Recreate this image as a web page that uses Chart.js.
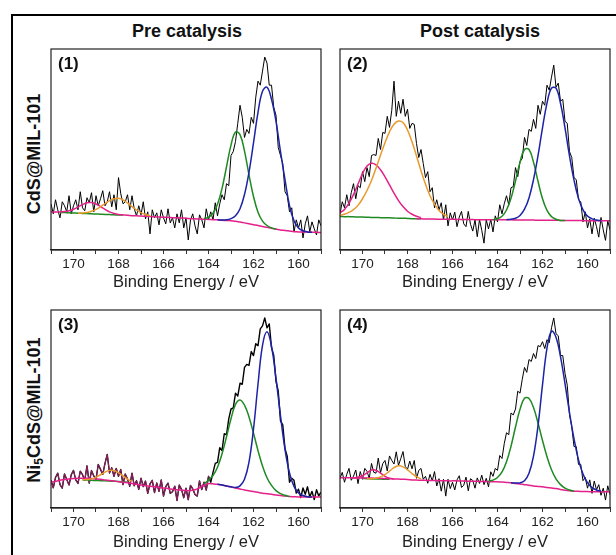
<!DOCTYPE html>
<html>
<head>
<meta charset="utf-8">
<script src="https://cdn.jsdelivr.net/npm/chart.js@4.4.1/dist/chart.umd.min.js"></script>
<style>
  html, body { margin: 0; padding: 0; background: #fff; }
  body { width: 616px; height: 555px; overflow: hidden; position: relative; font-family: 'Liberation Sans', Arial, sans-serif; }
  #frame { position: absolute; left: 11px; top: 14px; width: 640px; height: 600px; border-left: 2px solid #000; border-top: 2px solid #000; }
  .coltitle { position: absolute; width: 220px; text-align: center; font-weight: bold; font-size: 18px; line-height: 20px; color: #111; }
  .rowlabel { position: absolute; width: 240px; height: 22px; line-height: 22px; text-align: center; font-weight: bold; font-size: 18px; color: #111; transform: rotate(-90deg); white-space: nowrap; }
  .rowlabel sub { font-size: 12px; vertical-align: -3px; line-height: 0; }
  canvas { position: absolute; }
</style>
</head>
<body>
<div id="frame"></div>
<div class="coltitle" style="left:77px; top:21px;">Pre catalysis</div>
<div class="coltitle" style="left:370px; top:21px;">Post catalysis</div>
<div class="rowlabel" style="left:-86px; top:143px;">CdS@MIL-101</div>
<div class="rowlabel" style="left:-86px; top:399px;">Ni<sub>5</sub>CdS@MIL-101</div>
<canvas id="c1" width="290" height="253" style="left:41px; top:39px;"></canvas>
<canvas id="c2" width="290" height="253" style="left:330px; top:39px;"></canvas>
<canvas id="c3" width="290" height="252" style="left:41px; top:300px;"></canvas>
<canvas id="c4" width="290" height="252" style="left:330px; top:300px;"></canvas>
<script>
// ---- shared energy grids (eV) ----
const energy = [171,170.9,170.8,170.7,170.6,170.5,170.4,170.3,170.2,170.1,
 170,169.9,169.8,169.7,169.6,169.5,169.4,169.3,169.2,169.1,
 169,168.9,168.8,168.7,168.6,168.5,168.4,168.3,168.2,168.1,
 168,167.9,167.8,167.7,167.6,167.5,167.4,167.3,167.2,167.1,
 167,166.9,166.8,166.7,166.6,166.5,166.4,166.3,166.2,166.1,
 166,165.9,165.8,165.7,165.6,165.5,165.4,165.3,165.2,165.1,
 165,164.9,164.8,164.7,164.6,164.5,164.4,164.3,164.2,164.1,
 164,163.9,163.8,163.7,163.6,163.5,163.4,163.3,163.2,163.1,
 163,162.9,162.8,162.7,162.6,162.5,162.4,162.3,162.2,162.1,
 162,161.9,161.8,161.7,161.6,161.5,161.4,161.3,161.2,161.1,
 161,160.9,160.8,160.7,160.6,160.5,160.4,160.3,160.2,160.1,
 160,159.9,159.8,159.7,159.6,159.5,159.4,159.3,159.2,159.1,
 159];
const fitEnergy = [171,170.8,170.6,170.4,170.2,170,169.8,169.6,169.4,169.2,
 169,168.8,168.6,168.4,168.2,168,167.8,167.6,167.4,167.2,
 167,166.8,166.6,166.4,166.2,166,165.8,165.6,165.4,165.2,
 165,164.8,164.6,164.4,164.2,164,163.8,163.6,163.4,163.2,
 163,162.8,162.6,162.4,162.2,162,161.8,161.6,161.4,161.2,
 161,160.8,160.6,160.4,160.2,160,159.8,159.6,159.4,159.2,
 159];
const xTicks = [170,168,166,164,162,160];
const panelLabels = ['(1)','(2)','(3)','(4)'];

// ---- panel 1 : CdS@MIL-101, pre catalysis ----
const p1Counts = [23,18,25,20,16,24,22,19,27,18,
 22,25,20,29,21,19.5,26,23.5,28.5,19,
 27,22,25.5,29.5,22,24,29,21.5,27.5,20,
 36,28,23,24,27.5,20,27,20.5,17,22,
 17.5,24,15.5,19,8,20,16,18.5,12.5,20,
 16,13,20.5,13.5,16,11,18,13.5,20,11,
 16,5,15,18,12,8,17.5,15,11,20.5,
 15,19,15,23.5,17,23,27.5,25,33,32,
 47,49,54,63,72,66,56,60,58,66,
 63,76,84,82,89,96,93,82,82,71,
 67,51,47,43,29,27,19,21,9,15,
 11,15,6,13,17,9,14,10.5,7.5,15,
 12];
const p1BgFrom = 167.8;
const p1Bg = [17.4,17.3,17.1,17.0,16.9,16.8,16.7,16.5,16.4,16.3,16.2,16.1,16.0,15.9,15.8,15.6,15.5,15.4,15.3,15.2,15.1,15.0,14.8,14.7,14.6,14.3,13.9,13.5,13.1,12.6,12.2,11.7,11.3,10.8,10.4,10.0,9.7,9.4,9.1,9.0,8.9,8.9,8.8,8.8,8.7];
const p1BaseFrom = 170.6;
const p1Base = [18.7,18.6,18.5,18.4,18.3,18.2,18.1,18.0,17.9,17.8,17.7,17.6,17.5,17.4,17.4];
const p1MagentaFrom = 171;
const p1Magenta = [19.0,18.9,18.9,19.1,19.5,20.3,21.4,22.6,23.5,23.6,22.9,21.6,20.2,19.0,18.2,17.7,17.5];
const p1OrangeFrom = 169.8;
const p1Orange = [18.3,18.4,18.7,19.3,20.2,21.5,23.1,24.6,25.5,25.7,24.9,23.4,21.6,19.9,18.6,17.7,17.1];
const p1GreenFrom = 164.2;
const p1Green = [15.6,16.3,18.3,22.8,30.5,41.4,52.2,58.7,57.4,49.2,37.4,26.6,18.8,14.4,12.2,11.0,10.4];
const p1BlueFrom = 163.6;
const p1Blue = [15.0,14.9,15.0,15.6,17.0,20.5,27.6,38.7,53.3,68.5,79.0,81.0,75,64,49,35,22,14.5,11,9.6,9.0,8.8];

// ---- panel 2 : CdS@MIL-101, post catalysis ----
const p2Counts = [18,24,21,27.5,22,28.5,33,25.5,32,31,
 39,34,41,36.5,47,47.5,47,55.5,50,58.5,
 58,66.5,61,69.5,84,66.5,74,68,75,66.5,
 70,60.5,63,62.5,53,46,50,43,36,39,
 29,31,21,25,20,23.5,15,22.5,12,18.5,
 15,18.8,11.6,16.4,19.2,13,11.6,19.2,12.8,9.4,
 15,6.6,15.2,9.8,3.4,15,10.5,15.2,9,17,
 14,22.5,18,23,27,22.5,31,31.5,41,36.5,
 44,45.5,56,52,60,59,65,60.5,72,67.5,
 74,72,82,79.5,86,92,81,83,74,75,
 64,63,49,46,36,35,25,24,14,19,
 11,15.5,8,15.8,11.6,6.4,16.2,10,4.8,14.5,
 10];
const p2BgFrom = 167.6;
const p2Bg = [15.5,15.5,15.4,15.4,15.4,15.3,15.3,15.3,15.3,15.2,15.2,15.2,15.2,15.1,15.1,15.1,15.1,15.0,15.0,15.0,15.0,15.0,14.9,14.9,14.9,14.9,14.9,14.8,14.8,14.8,14.8,14.8,14.7,14.7,14.7,14.7,14.7,14.6,14.6,14.6,14.6,14.6,14.5,14.5];
const p2BaseFrom = 171;
const p2Base = [16.7,16.6,16.6,16.5,16.4,16.4,16.3,16.2,16.2,16.1,16.0,16.0,15.9,15.8,15.8,15.7,15.6,15.6,15.5];
const p2MagentaFrom = 171;
const p2Magenta = [18.5,20.2,23.3,27.6,32.8,38.0,41.8,43.2,42.4,39.9,36.4,32.4,28.3,24.6,21.6,19.3,17.8,16.8,16.1];
const p2OrangeFrom = 171;
const p2Orange = [17.3,17.8,18.7,20.1,22.2,25.5,29.6,34.6,40.7,47.2,53.4,58.8,62.6,64.2,63.4,59.7,53.8,46.8,39.4,32.7,27.0,22.8,19.7,17.8,16.6];
const p2GreenFrom = 164.2;
const p2Green = [15.1,15.5,16.8,19.9,25.7,34.3,43.7,50.0,50.0,43.7,34.2,25.5,19.7,16.6,15.3,14.7,14.7];
const p2BlueFrom = 163.6;
const p2Blue = [15.1,15.3,15.8,17.2,20.3,25.9,35.0,46.9,60.8,73.1,80.5,80.5,73.0,60.7,46.8,34.8,25.7,20.0,16.9,15.5,14.9,14.6];

// ---- panel 3 : Ni5CdS@MIL-101, pre catalysis ----
const p3Counts = [14,10.2,15.4,17.6,11.8,10,17.2,14.4,11.6,16.8,
 19,14.2,12.4,18.6,16.8,14,21.3,12.6,18.9,16.2,
 14.5,22,19.5,17,22.5,27,17.7,20.3,16,20,
 16,19.4,11.8,17.2,14.6,11,17.6,11.2,13.8,9.4,
 15,10.8,13.6,7.4,12.2,14,7.8,12.6,8.4,14.2,
 6,10.8,12.6,7.4,8.2,11,3.8,11.6,9.4,5.2,
 10,4.2,11.4,9.6,6.8,6,13.7,9.3,13,9,
 16,13,18,22.5,23,30.5,29,37.5,37,45,
 50,50.5,58,56.5,63,62.5,71,72.5,72,79,
 77,83,82,90.5,92,96,91,93,81,77,
 64,59,44,42,30,26,13,15,14,7.5,
 9.5,5.3,10.1,6.9,10.7,5.5,8.4,4.3,9.2,6.1,
 8];
const p3BgFrom = 171;
const p3Bg = [13.0,13.5,14.0,14.4,14.7,14.9,15.0,15.0,15.0,14.9,
 14.7,14.5,14.2,13.9,13.6,13.3,13.0,12.7,12.4,12.0,
 11.6,11.3,11.0,10.7,10.4,10.1,9.8,9.5,9.2,9.0,
 8.8,8.8,9.2,10.2,11.5,12.3,12.2,12.0,11.6,11.1,
 10.6,10.1,9.6,9.1,8.7,8.3,7.9,7.5,7.2,6.9,
 6.6,6.3,6.0,5.8,5.7,5.6,5.6,5.5,5.5,5.5,
 5.5];
const p3BaseFrom = 169.6;
const p3Base = [14.2,14.1,14.0,13.9,13.8,13.7,13.6,13.5,13.4,13.2,13.0];
const p3OrangeFrom = 169.6;
const p3Orange = [14.3,14.4,14.7,15.5,16.8,18.1,19.0,18.9,17.8,16.2,14.6,13.4];
const p3GreenFrom = 164.2;
const p3Green = [12.1,14.1,16.4,20.6,27.3,35.9,45.1,52.3,54.6,52.0,46.0,37.8,29.0,21.2,15.3,11.4,8.8,7.3,6.4,5.8];
const p3BlueFrom = 163.6;
const p3Blue = [12.0,11.6,11.1,10.7,10.4,11.2,14.5,23.2,39.9,62.5,82.1,89.0,81.7,65.5,46.6,29.6,17.7,10.9,7.6,6.3,5.7,5.5];
const p3OverlayMin = 164;

// ---- panel 4 : Ni5CdS@MIL-101, post catalysis ----
const p4Counts = [15,18,13,17,20,14,16.1,19.2,12.3,18.4,
 14.5,20,18.5,15,22.5,18,17.6,25.2,17.8,22.4,
 24,18.7,26.3,24,22.2,28.4,21.5,25,28.5,21,
 19.5,23.7,19.8,24,15,19,20,14.5,16,12.5,
 17,13.7,18.4,11.1,14.8,8.5,14.5,6,14.5,9.8,
 13,9.1,14.2,16.3,10.4,11.5,15.6,8.7,14.8,13.9,
 10,15.2,12.4,16.6,11.8,15,10.7,18.3,16,20,
 19,26.5,25,32.5,38,37,48,47,50,59,
 58,65,71,68.5,75,74,78,75.5,82,81.5,
 84,80.5,85,83.5,91,96,88,87,77,77,
 68,62,47,41,31,31,22,22,13.8,15.4,
 10,14.2,7.4,13.6,9.2,11.8,6.4,10,4,11.2,
 6.8];
const p4BgFrom = 171;
const p4Bg = [15.3,15.3,15.3,15.2,15.2,15.2,15.1,15.1,15.0,15.0,
 14.9,14.8,14.7,14.6,14.5,14.4,14.2,14.1,14.0,14.0,
 13.9,13.9,13.8,13.8,13.7,13.7,13.7,13.6,13.6,13.5,
 13.5,13.4,13.4,13.3,13.3,13.2,13.1,12.9,12.7,12.4,
 12.1,11.8,11.5,11.1,10.9,10.7,10.4,10.1,9.8,9.4,
 9.0,8.7,8.5,8.4,8.3,8.3,8.2,8.2,8.2,8.2,
 8.2];
const p4BaseFrom = 170;
const p4Base = [14.9,14.8,14.7,14.6,14.6,14.5,14.5];
const p4MagentaFrom = 170.4;
const p4Magenta = [15.2,15.5,16.3,17.7,19.2,19.1,17.6,16.0,15.1,14.7];
const p4OrangeFrom = 169.8;
const p4Orange = [14.8,14.8,15.0,15.7,16.9,18.6,20.4,21.3,20.8,19.3,17.4,15.8,14.7];
const p4GreenFrom = 164.4;
const p4Green = [13.6,14.1,15.4,18.2,23.4,31.2,40.9,49.8,55.4,55.3,50.7,42.9,34.1,25.9,19.3,14.7,11.8,10.0,9.1,8.5];
const p4BlueFrom = 163.4;
const p4Blue = [12.7,12.6,12.7,13.8,17.5,26.2,41.5,62.2,80.7,89.3,86.2,76.5,62.8,48.2,35.0,24.3,17.2,12.8,10.3,9.1,8.5];

// ---- colours ----
const C_DATA = '#000000';
const C_OVER = '#9a1f66';
const C_PINK = '#e4208a';
const C_GREEN = '#1f8a22';
const C_ORANGE = '#e99a2c';
const C_BLUE = '#1c23a6';
const FONT = "'Liberation Sans', Arial, sans-serif";

function fitPoints(vals, from) {
  const k = fitEnergy.indexOf(from);
  return vals.map((v, i) => ({ x: fitEnergy[k + i], y: v }));
}
function specPoints(counts) {
  return energy.map((e, i) => ({ x: e, y: counts[i] }));
}
function fitSet(vals, from, color) {
  return { data: fitPoints(vals, from), borderColor: color, borderWidth: 1.5, tension: 0.4, pointRadius: 0, fill: false };
}

const framePlugin = {
  id: 'panelFrame',
  afterDraw(chart, args, opts) {
    const { ctx, chartArea: a } = chart;
    ctx.save();
    ctx.strokeStyle = '#222';
    ctx.lineWidth = 1.2;
    ctx.strokeRect(a.left, a.top, a.right - a.left, a.bottom - a.top);
    ctx.fillStyle = '#111';
    ctx.font = 'bold 17px ' + FONT;
    ctx.textBaseline = 'middle';
    ctx.textAlign = 'left';
    ctx.fillText(opts.label, a.left + 7, a.top + 15.5);
    ctx.restore();
  }
};

function makeChart(id, label, datasets, axisH) {
  new Chart(document.getElementById(id), {
    type: 'line',
    data: { datasets },
    options: {
      responsive: false,
      animation: false,
      devicePixelRatio: 1,
      layout: { padding: { left: 10, right: 10, top: 10, bottom: 0 } },
      plugins: { legend: { display: false }, tooltip: { enabled: false }, panelFrame: { label } },
      elements: { point: { radius: 0 }, line: { borderJoinStyle: 'round' } },
      scales: {
        x: {
          type: 'linear', reverse: true, min: 159, max: 171,
          afterFit(scale) { scale.height = axisH; },
          ticks: {
            stepSize: 1, autoSkip: false, maxRotation: 0, minRotation: 0, padding: 2,
            color: '#222', font: { family: FONT, size: 13.5 },
            callback: v => (xTicks.includes(v) ? String(v) : '')
          },
          grid: { drawOnChartArea: false, drawTicks: true, tickLength: 4, color: '#333', lineWidth: 1 },
          border: { display: true, color: '#222', width: 1.2 },
          title: { display: true, text: 'Binding Energy / eV', color: '#222', font: { family: FONT, size: 16.5 }, padding: 0 }
        },
        y: { display: false, min: 0, max: 100 }
      }
    },
    plugins: [framePlugin]
  });
}

const dataSet = (counts, color, w) => ({ data: counts, borderColor: color, borderWidth: w, tension: 0, pointRadius: 0, fill: false });

makeChart('c1', panelLabels[0], [
  fitSet(p1Blue, p1BlueFrom, C_BLUE),
  fitSet(p1Green, p1GreenFrom, C_GREEN),
  fitSet(p1Orange, p1OrangeFrom, C_ORANGE),
  fitSet(p1Magenta, p1MagentaFrom, C_PINK),
  fitSet(p1Bg, p1BgFrom, C_PINK),
  fitSet(p1Base, p1BaseFrom, C_GREEN),
  dataSet(specPoints(p1Counts), C_DATA, 1)
], 42);

makeChart('c2', panelLabels[1], [
  fitSet(p2Blue, p2BlueFrom, C_BLUE),
  fitSet(p2Green, p2GreenFrom, C_GREEN),
  fitSet(p2Orange, p2OrangeFrom, C_ORANGE),
  fitSet(p2Magenta, p2MagentaFrom, C_PINK),
  fitSet(p2Bg, p2BgFrom, C_PINK),
  fitSet(p2Base, p2BaseFrom, C_GREEN),
  dataSet(specPoints(p2Counts), C_DATA, 1)
], 42);

makeChart('c3', panelLabels[2], [
  fitSet(p3Blue, p3BlueFrom, C_BLUE),
  fitSet(p3Green, p3GreenFrom, C_GREEN),
  fitSet(p3Orange, p3OrangeFrom, C_ORANGE),
  fitSet(p3Bg, p3BgFrom, C_PINK),
  fitSet(p3Base, p3BaseFrom, C_GREEN),
  dataSet(specPoints(p3Counts).filter(p => p.x >= p3OverlayMin), C_OVER, 1),
  dataSet(specPoints(p3Counts), C_DATA, 1.4)
], 44);

makeChart('c4', panelLabels[3], [
  fitSet(p4Blue, p4BlueFrom, C_BLUE),
  fitSet(p4Green, p4GreenFrom, C_GREEN),
  fitSet(p4Orange, p4OrangeFrom, C_ORANGE),
  fitSet(p4Magenta, p4MagentaFrom, C_PINK),
  fitSet(p4Bg, p4BgFrom, C_PINK),
  fitSet(p4Base, p4BaseFrom, C_GREEN),
  dataSet(specPoints(p4Counts), C_DATA, 1)
], 44);
</script>
</body>
</html>
